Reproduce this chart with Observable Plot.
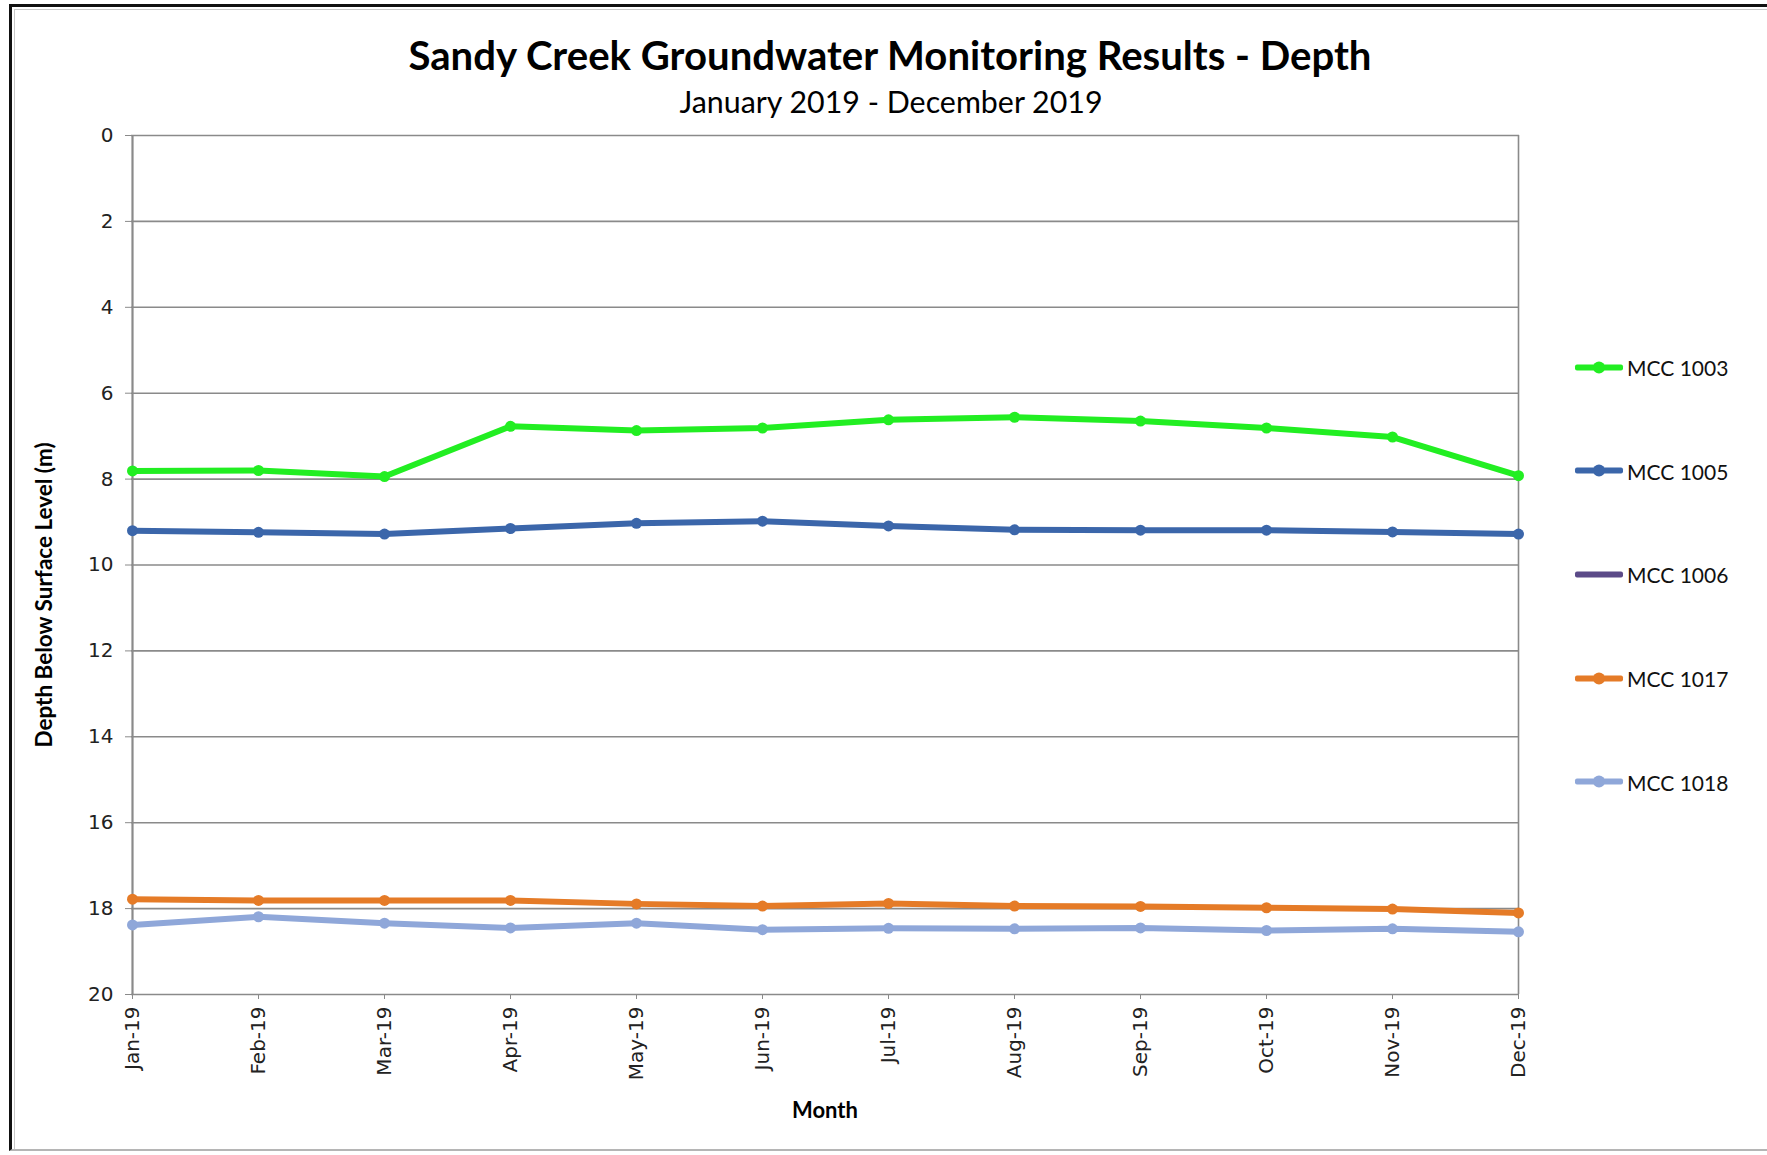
<!DOCTYPE html>
<html>
<head>
<meta charset="utf-8">
<script src="https://cdn.jsdelivr.net/npm/d3@7"></script>
<script src="https://cdn.jsdelivr.net/npm/@observablehq/plot@0.6"></script>
<style>
  html, body { margin: 0; padding: 0; background: #fff; }
  #wrap { position: relative; width: 1767px; height: 1155px; overflow: hidden; background: #fff; }
  #wrap svg { position: absolute; left: 0; top: 0; }
  .frame { position: absolute; left: 9px; top: 4px; width: 1800px; height: 1147px;
           border-top: 3px solid #111; border-left: 3px solid #111; border-bottom: 2px solid #b5b5b5; box-sizing: border-box; }
  .frame2 { position: absolute; left: 14px; top: 9px; width: 1800px; height: 1140px;
           border-top: 1px solid #c8c8c8; border-left: 1px solid #c8c8c8; box-sizing: border-box; }
  .txt { position: absolute; white-space: nowrap; color: #000; }
  #title { font-family: Lato, sans-serif; font-weight: 700; transform: translate(-50%, -50%); }
  #subtitle { font-family: Lato, sans-serif; font-weight: 400; transform: translate(-50%, -50%); }
  #ylab { font-family: Lato, sans-serif; font-weight: 700; font-size: 22.5px; transform: translate(-50%, -50%) rotate(-90deg); }
  #xlab { font-family: Lato, sans-serif; font-weight: 700; font-size: 22px; transform: translate(-50%, -50%); }
  .leg { position: absolute; display: flex; align-items: center; transform: translateY(-50%); }
  .sw { position: relative; width: 48px; height: 6px; border-radius: 2px; }
  .sw .d { position: absolute; left: 18px; top: -3px; width: 12px; height: 12px; border-radius: 50%; }
  .leg span { font-family: Lato, sans-serif; font-size: 21px; color: #111; margin-left: 4px; }
</style>
</head>
<body>
<div id="wrap"></div>
<script>
// ---- data ----
const months = ["Jan-19","Feb-19","Mar-19","Apr-19","May-19","Jun-19","Jul-19","Aug-19","Sep-19","Oct-19","Nov-19","Dec-19"];
const yTicks = [0,2,4,6,8,10,12,14,16,18,20];
const seriesNames = ["MCC 1003","MCC 1005","MCC 1006","MCC 1017","MCC 1018"];
const seriesColors = ["#22ee22","#3b66aa","#5b4a88","#e57b27","#8fa7d9"];
const mcc1003 = [7.81,7.80,7.94,6.77,6.87,6.81,6.62,6.56,6.65,6.81,7.02,7.92];
const mcc1005 = [9.20,9.24,9.28,9.15,9.03,8.98,9.09,9.18,9.19,9.19,9.23,9.28];
const mcc1006 = []; // no readings shown
const mcc1017 = [17.78,17.81,17.81,17.81,17.89,17.94,17.88,17.94,17.95,17.98,18.01,18.10];
const mcc1018 = [18.38,18.19,18.34,18.45,18.34,18.49,18.46,18.47,18.45,18.51,18.47,18.54];
const titleText = "Sandy Creek Groundwater Monitoring Results - Depth";
const subtitleText = "January 2019 - December 2019";
const yLabel = "Depth Below Surface Level (m)";
const xLabel = "Month";

const seriesValues = [mcc1003, mcc1005, mcc1006, mcc1017, mcc1018];
const rows = seriesNames.flatMap((s, i) => seriesValues[i].map((v, j) => ({series: s, month: months[j], depth: v})));

const W = 1767, H = 1155;
const mL = 131, mR = 248, mT = 135, mB = 161;
const gridColor = "#8a8a8a";
const tickFont = "DejaVu Sans";

const chart = Plot.plot({
  width: W, height: H,
  marginLeft: mL, marginRight: mR, marginTop: mT, marginBottom: mB,
  style: {fontFamily: "'DejaVu Sans', sans-serif", fontSize: "20px", color: "#222", background: "transparent", overflow: "visible"},
  x: {type: "point", domain: months, padding: 0},
  y: {domain: [0, 20], reverse: true},
  color: {domain: seriesNames, range: seriesColors},
  marks: [
    Plot.ruleY(yTicks, {stroke: gridColor, strokeWidth: 1.6}),
    Plot.ruleX([months[months.length - 1]], {stroke: gridColor, strokeWidth: 1.6}),
    Plot.ruleX([months[0]], {stroke: gridColor, strokeWidth: 2.2}),
    Plot.axisY({ticks: yTicks, tickSize: 6, tickPadding: 12, label: null, stroke: gridColor, fontFamily: tickFont, fontSize: 20, fill: "#222"}),
    Plot.axisX({tickRotate: -90, tickSize: 5, tickPadding: 7, label: null, stroke: gridColor, fontFamily: tickFont, fontSize: 20, fill: "#222"}),
    Plot.line(rows, {x: "month", y: "depth", z: "series", stroke: "series", strokeWidth: 6, strokeLinejoin: "round", strokeLinecap: "round"}),
    Plot.dot(rows, {x: "month", y: "depth", fill: "series", r: 5.5, stroke: "none"})
  ]
});

const wrap = document.getElementById("wrap");
wrap.insertAdjacentHTML("beforeend", '<div class="frame"></div><div class="frame2"></div>');
wrap.appendChild(chart);

function addText(id, text, x, y) {
  const d = document.createElement("div");
  d.id = id; d.className = "txt"; d.textContent = text;
  d.style.left = x + "px"; d.style.top = y + "px";
  wrap.appendChild(d);
  return d;
}
function fitWidth(el, target, startSize) {
  el.style.fontSize = startSize + "px";
  const w = el.getBoundingClientRect().width;
  el.style.fontSize = (startSize * target / w).toFixed(2) + "px";
}
const t = addText("title", titleText, 890, 54);
fitWidth(t, 963, 32);
const st = addText("subtitle", subtitleText, 891, 101);
fitWidth(st, 423, 26);
addText("ylab", yLabel, 43, 595);
addText("xlab", xLabel, 825, 1109);

// legend
const legY0 = 367, legStep = 103.7;
seriesNames.forEach((s, i) => {
  const item = document.createElement("div");
  item.className = "leg";
  item.style.left = "1575px";
  item.style.top = (legY0 + i * legStep) + "px";
  const hasDots = seriesValues[i].length > 0;
  item.innerHTML = `<div class="sw" style="background:${seriesColors[i]}">${hasDots ? `<div class="d" style="background:${seriesColors[i]}"></div>` : ""}</div><span>${s}</span>`;
  wrap.appendChild(item);
});
</script>
</body>
</html>
